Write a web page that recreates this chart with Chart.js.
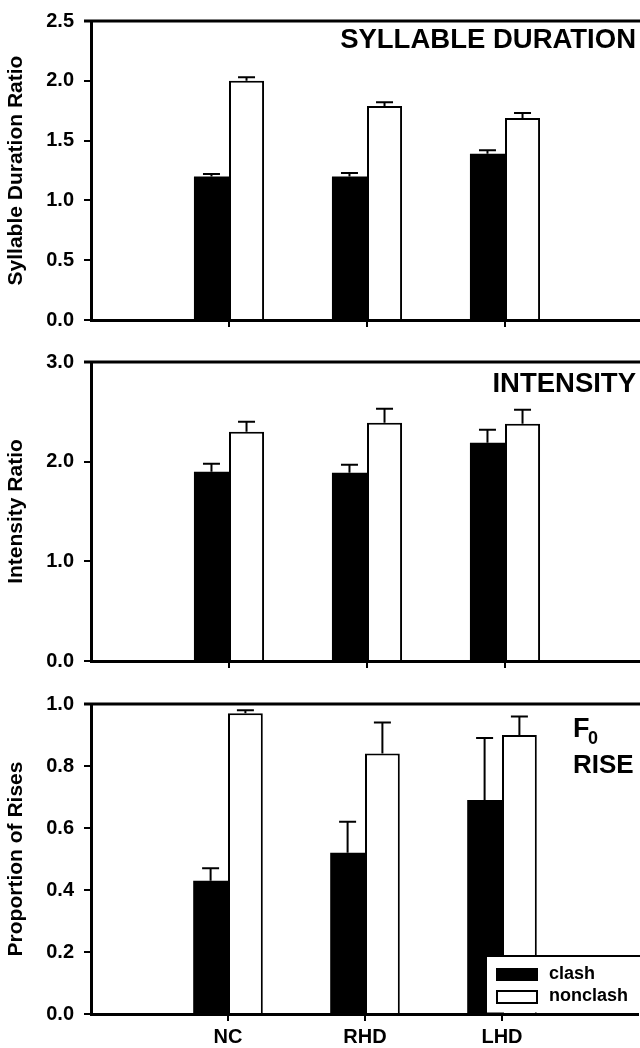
<!DOCTYPE html>
<html>
<head>
<meta charset="utf-8">
<script src="https://cdn.jsdelivr.net/npm/chart.js@4.4.1/dist/chart.umd.min.js"></script>
<style>
  html, body { margin: 0; padding: 0; background: #fff; overflow: hidden; }
  #wrap { position: relative; width: 640px; height: 1048px; overflow: hidden; }
  canvas { position: absolute; left: 0; }
</style>
</head>
<body>
<div id="wrap">
  <canvas id="durChart" width="643" height="340" style="top:0px"></canvas>
  <canvas id="intChart" width="643" height="341" style="top:340px"></canvas>
  <canvas id="riseChart" width="643" height="367" style="top:681px"></canvas>
</div>
<script>
// groups on the x axis (padded with an empty slot at each end)
const groups = ['NC', 'RHD', 'LHD'];

// syllable duration ratio
const durClash = [1.20, 1.20, 1.39];
const durClashErr = [0.02, 0.03, 0.03];
const durNonclash = [2.00, 1.79, 1.69];
const durNonclashErr = [0.03, 0.03, 0.04];

// intensity ratio
const intClash = [1.90, 1.89, 2.19];
const intClashErr = [0.08, 0.08, 0.13];
const intNonclash = [2.30, 2.39, 2.38];
const intNonclashErr = [0.10, 0.14, 0.14];

// proportion of F0 rises
const riseClash = [0.43, 0.52, 0.69];
const riseClashErr = [0.04, 0.10, 0.20];
const riseNonclash = [0.97, 0.84, 0.90];
const riseNonclashErr = [0.01, 0.10, 0.06];

// y axis ranges: [max, step]
const durAxis = [2.5, 0.5];
const intAxis = [3.0, 1.0];
const riseAxis = [1.0, 0.2];

const FONT = "'Liberation Sans', Arial, Helvetica, sans-serif";
Chart.defaults.font.family = FONT;
Chart.defaults.color = '#000';

const pad = arr => [null, ...arr, null];
const labels = ['', ...groups, ''];

/**
 * Up-only error bars with a cap, drawn from each bar's top.
 */
const errorBars = {
    id: 'errorBars',
    afterDatasetsDraw(chart) {
        const ctx = chart.ctx;
        const y = chart.scales.y;
        ctx.save();
        ctx.strokeStyle = '#000';
        ctx.lineWidth = 2;
        chart.data.datasets.forEach((ds, i) => {
            chart.getDatasetMeta(i).data.forEach((bar, j) => {
                const v = ds.data[j], e = ds.errors[j];
                if (v == null || e == null) return;
                const top = y.getPixelForValue(v + e);
                ctx.beginPath();
                ctx.moveTo(bar.x, bar.y);
                ctx.lineTo(bar.x, top);
                ctx.moveTo(bar.x - 8.5, top);
                ctx.lineTo(bar.x + 8.5, top);
                ctx.stroke();
            });
        });
        ctx.restore();
    }
};

// top frame line of each panel
const topFrame = {
    id: 'topFrame',
    afterDraw(chart) {
        const { ctx, chartArea } = chart;
        ctx.save();
        ctx.strokeStyle = '#000';
        ctx.lineWidth = 3;
        ctx.beginPath();
        ctx.moveTo(chartArea.left - 7, chartArea.top);
        ctx.lineTo(chartArea.right + 5, chartArea.top);
        ctx.stroke();
        ctx.restore();
    }
};

function titlePlugin(draw) {
    return {
        id: 'panelTitle',
        afterDraw(chart) {
            const ctx = chart.ctx;
            ctx.save();
            ctx.fillStyle = '#000';
            draw(ctx, chart.chartArea);
            ctx.restore();
        }
    };
}

// legend box in the lower right corner of the last panel
const legendBox = {
    id: 'legendBox',
    afterDraw(chart) {
        const { ctx, chartArea } = chart;
        const x0 = chartArea.right - 153, y0 = chartArea.bottom - 58;
        ctx.save();
        ctx.fillStyle = '#fff';
        ctx.fillRect(x0, y0, chartArea.right - x0 + 5, chartArea.bottom - y0 - 1.5);
        ctx.strokeStyle = '#000';
        ctx.lineWidth = 2;
        ctx.beginPath();
        ctx.moveTo(x0, chartArea.bottom);
        ctx.lineTo(x0, y0);
        ctx.lineTo(chartArea.right + 5, y0);
        ctx.stroke();
        ctx.fillStyle = '#000';
        ctx.fillRect(x0 + 10, y0 + 12, 42, 13);
        ctx.lineWidth = 2;
        ctx.strokeRect(x0 + 11, y0 + 35, 40, 12);
        ctx.font = 'bold 18px ' + FONT;
        ctx.textBaseline = 'middle';
        ctx.fillText('clash', x0 + 63, y0 + 18);
        ctx.fillText('nonclash', x0 + 63, y0 + 40);
        ctx.restore();
    }
};

function makePanel(id, opts) {
    const ctx = document.getElementById(id).getContext('2d');
    return new Chart(ctx, {
        type: 'bar',
        data: {
            labels: labels,
            datasets: [{
                label: 'clash',
                data: pad(opts.clash),
                errors: pad(opts.clashErr),
                backgroundColor: '#000',
                borderColor: '#000',
                borderWidth: 0
            }, {
                label: 'nonclash',
                data: pad(opts.nonclash),
                errors: pad(opts.nonclashErr),
                backgroundColor: '#fff',
                borderColor: '#000',
                borderWidth: 2
            }]
        },
        options: {
            responsive: false,
            animation: false,
            devicePixelRatio: 1,
            categoryPercentage: 0.508,
            barPercentage: 1.0,
            layout: { padding: { top: opts.padTop, right: 0, left: 0, bottom: 0 } },
            plugins: {
                legend: { display: false },
                tooltip: { enabled: false }
            },
            scales: {
                x: {
                    offset: false,
                    grid: {
                        offset: false,
                        drawOnChartArea: false,
                        tickLength: 7,
                        lineWidth: c => (c.index === 0 || c.index === labels.length - 1) ? 0 : 2,
                        color: c => (c.index === 0 || c.index === labels.length - 1) ? 'rgba(0,0,0,0)' : '#000'
                    },
                    border: { display: true, color: '#000', width: 3 },
                    ticks: {
                        display: opts.showLabels,
                        autoSkip: false,
                        maxRotation: 0,
                        padding: 4,
                        font: { size: 20, weight: 'bold' }
                    },
                    afterFit: s => { s.height = opts.xHeight; }
                },
                y: {
                    min: 0,
                    max: opts.axis[0],
                    ticks: {
                        stepSize: opts.axis[1],
                        padding: 10,
                        font: { size: 20, weight: 'bold', lineHeight: 1 },
                        callback: v => Number(v).toFixed(1)
                    },
                    grid: {
                        drawOnChartArea: false,
                        tickLength: 7,
                        lineWidth: 2,
                        color: '#000'
                    },
                    border: { display: true, color: '#000', width: 3 },
                    title: {
                        display: true,
                        text: opts.yTitle,
                        font: { size: 21, weight: 'bold' },
                        padding: { top: 4, bottom: 0 }
                    },
                    afterFit: s => { s.width = 91; }
                }
            }
        },
        plugins: [errorBars, topFrame, titlePlugin(opts.title)].concat(opts.extra || [])
    });
}

function initCharts() {
    makePanel('durChart', {
        clash: durClash, clashErr: durClashErr,
        nonclash: durNonclash, nonclashErr: durNonclashErr,
        axis: durAxis, yTitle: 'Syllable Duration Ratio',
        padTop: 21, xHeight: 12, showLabels: false,
        title: (ctx, a) => {
            ctx.font = 'bold 27.5px ' + FONT;
            ctx.textAlign = 'right';
            ctx.textBaseline = 'alphabetic';
            ctx.fillText('SYLLABLE DURATION', a.right - 7, a.top + 27);
        }
    });

    makePanel('intChart', {
        clash: intClash, clashErr: intClashErr,
        nonclash: intNonclash, nonclashErr: intNonclashErr,
        axis: intAxis, yTitle: 'Intensity Ratio',
        padTop: 22, xHeight: 12, showLabels: false,
        title: (ctx, a) => {
            ctx.font = 'bold 27.5px ' + FONT;
            ctx.textAlign = 'right';
            ctx.textBaseline = 'alphabetic';
            ctx.fillText('INTENSITY', a.right - 7, a.top + 30);
        }
    });

    makePanel('riseChart', {
        clash: riseClash, clashErr: riseClashErr,
        nonclash: riseNonclash, nonclashErr: riseNonclashErr,
        axis: riseAxis, yTitle: 'Proportion of Rises',
        padTop: 23, xHeight: 34, showLabels: true,
        title: (ctx, a) => {
            ctx.textAlign = 'left';
            ctx.textBaseline = 'alphabetic';
            ctx.font = 'bold 27px ' + FONT;
            ctx.fillText('F', a.right - 66, a.top + 33);
            ctx.font = 'bold 18px ' + FONT;
            ctx.fillText('0', a.right - 51, a.top + 40);
            ctx.font = 'bold 26px ' + FONT;
            ctx.fillText('RISE', a.right - 66, a.top + 69);
        },
        extra: [legendBox]
    });
}

document.addEventListener('DOMContentLoaded', initCharts);
</script>
</body>
</html>
